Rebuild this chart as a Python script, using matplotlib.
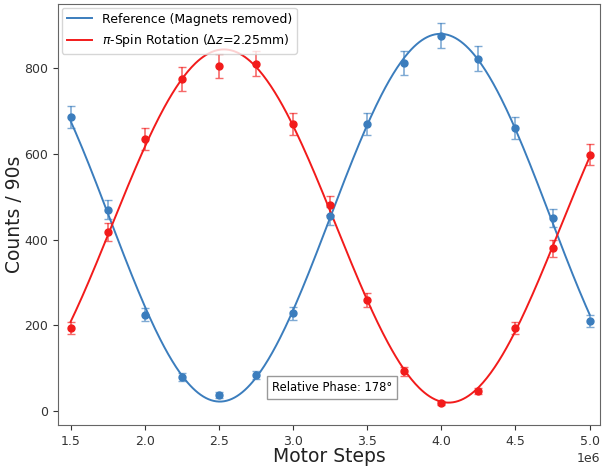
#!/usr/bin/env python3
"""
Neutron counts vs motor steps, reference vs pi-spin rotation, with sine fits
"""

import numpy as np
import matplotlib
matplotlib.use("Agg")
import matplotlib.pyplot as plt
from matplotlib.colors import to_rgba

# motor positions (steps)
steps = [1.5e6, 1.75e6, 2.0e6, 2.25e6, 2.5e6, 2.75e6, 3.0e6, 3.25e6,
         3.5e6, 3.75e6, 4.0e6, 4.25e6, 4.5e6, 4.75e6, 5.0e6]
# counts per 90s
ref_counts = [686, 470, 225, 80, 38, 85, 228, 455, 670, 812, 875, 822, 660, 450, 210]
spin_counts = [195, 418, 635, 775, 805, 810, 670, 480, 260, 93, 20, 48, 195, 380, 598]

ref_label = "Reference (Magnets removed)"
spin_label = r"$\pi$-Spin Rotation ($\Delta z$=2.25mm)"
phase_text = "Relative Phase: 178°"

blue = "#3b7dbd"
red = "#f21b1b"


# least squares sine fit, scanning the period
def sine_fit(x, y):
    x = np.asarray(x)
    y = np.asarray(y, dtype=float)
    best = None
    for period in np.linspace(2.0e6, 4.5e6, 2001):
        k = 2 * np.pi / period
        M = np.column_stack([np.ones_like(x), np.cos(k * x), np.sin(k * x)])
        coef, res, _, _ = np.linalg.lstsq(M, y, rcond=None)
        r = np.sum((M @ coef - y) ** 2)
        if best is None or r < best[0]:
            best = (r, k, coef)
    _, k, coef = best
    return lambda t: coef[0] + coef[1] * np.cos(k * t) + coef[2] * np.sin(k * t)


fig = plt.figure(figsize=(6.02, 4.70), dpi=100)
ax = fig.add_axes([0.0963, 0.0947, 0.9004, 0.8968])

xs = np.linspace(steps[0], steps[-1], 400)
for counts, color, label in [(ref_counts, blue, ref_label), (spin_counts, red, spin_label)]:
    f = sine_fit(steps, counts)
    ax.plot(xs, f(xs), color=color, lw=1.4, label=label)
    ax.errorbar(steps, counts, yerr=np.sqrt(counts), fmt="o", color=color,
                ms=5, ecolor=to_rgba(color, 0.65), elinewidth=1.2, capsize=3)

ax.set_xlim(1.415e6, 5.07e6)
ax.set_ylim(-33, 949)
ax.set_xticks([1.5e6, 2.0e6, 2.5e6, 3.0e6, 3.5e6, 4.0e6, 4.5e6, 5.0e6])
ax.set_yticks([0, 200, 400, 600, 800])
ax.tick_params(labelsize=9, colors="#333333")
ax.xaxis.get_offset_text().set_fontsize(9)
ax.set_xlabel("Motor Steps", fontsize=13.5, color="#222222")
ax.set_ylabel("Counts / 90s", fontsize=13.5, color="#222222")
ax.xaxis.set_label_coords(0.5, -0.052)
ax.yaxis.set_label_coords(-0.062, 0.5)
for s in ax.spines.values():
    s.set_color("#666666")

ax.legend(loc="upper left", fontsize=9, borderaxespad=0.3)
ax.text(0.395, 0.082, phase_text, transform=ax.transAxes, fontsize=8.3,
        bbox=dict(boxstyle="square,pad=0.4", fc="white", ec="#999999"))

fig.savefig("out.png", dpi=100)
